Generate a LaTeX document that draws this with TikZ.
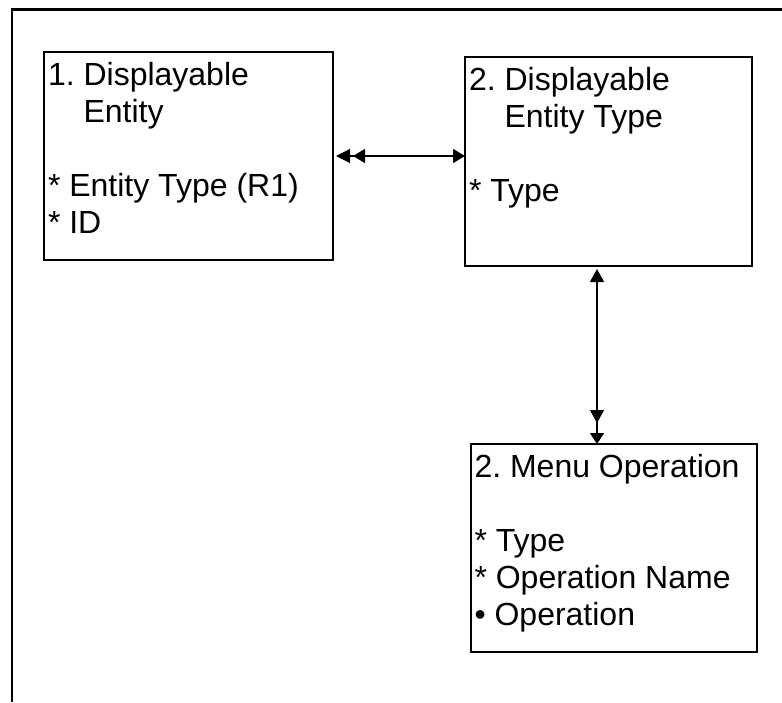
\documentclass[tikz,border=0pt]{standalone}
\usepackage{fontspec}
\setmainfont{Liberation Sans}
\usetikzlibrary{arrows.meta}
\frenchspacing
\begin{document}
\begin{tikzpicture}[x=1pt,y=-1pt,
  box/.style={draw, line width=1.3pt, rectangle, inner sep=0pt, outer sep=0pt},
  txt/.style={anchor=base west, inner sep=0pt, outer sep=0pt, font=\fontsize{32}{37}\selectfont\frenchspacing},
  conn/.style={line width=1.2pt}]
\useasboundingbox (0,0) rectangle (782,702);
% outer frame
\coordinate (fr) at (782,9.5);
\coordinate (fc) at (12.2,9.5);
\coordinate (fb) at (12.2,702);
\draw[line width=2.3pt] (fr) -- (fc) -- (fb);
% boxes
\node[box, minimum width=289pt, minimum height=208pt] (b1) at (188.5,156) {};
\node[box, minimum width=287pt, minimum height=209pt] (b2) at (608.5,161.5) {};
\node[box, minimum width=286pt, minimum height=208pt] (b3) at (614,548) {};
% texts box 1
\node[txt] (t11) at (48,85) {1. Displayable};
\node[txt] (t12) at (48,122) {\hphantom{1.\ }Entity};
\node[txt] (t13) at (48,196) {* Entity Type (R1)};
\node[txt] (t14) at (48,233) {* ID};
% texts box 2
\node[txt] (t21) at (469,90) {2. Displayable};
\node[txt] (t22) at (469,127) {\hphantom{2.\ }Entity Type};
\node[txt] (t23) at (469,201) {* Type};
% texts box 3
\node[txt] (t31) at (474.5,477) {2. Menu Operation};
\node[txt] (t32) at (474.5,551) {* Type};
\node[txt] (t33) at (474.5,588) {* Operation Name};
\node[txt] (t34) at (474.5,625) {• Operation};
% connectors
\draw[conn, {Triangle[length=14pt,width=14pt]Triangle[length=12pt,width=14pt,sep=3pt]}-{Triangle[length=12pt,width=14pt]}, shorten <=3pt]
  (b1.east) -- (b1.east -| b2.west);
\coordinate (vx) at (597,0);
\draw[conn, {Triangle[length=13pt,width=14pt]}-{Triangle[length=13pt,width=14pt,sep=10pt]Triangle[length=11pt,width=14pt]}, shorten <=3pt]
  (vx |- b2.south) -- (vx |- b3.north);
\end{tikzpicture}
\end{document}
